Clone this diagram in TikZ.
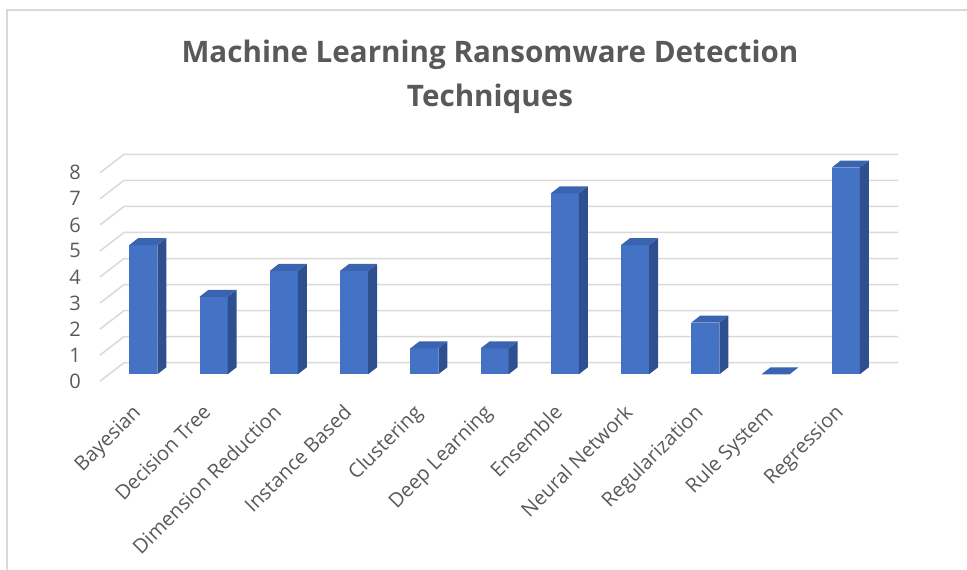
\documentclass[tikz,border=0pt]{standalone}
\usepackage{fontspec}
\setmainfont{Open Sans}
\definecolor{txtgray}{HTML}{595959}
\definecolor{gridgray}{HTML}{D9D9D9}
\definecolor{barfront}{HTML}{4472C4}
\definecolor{bartop}{HTML}{3A63B0}
\definecolor{barside}{HTML}{2E5090}
\tikzset{
  gridline/.style={draw=gridgray, line width=1.5pt},
  ticklabel/.style={text=txtgray, font=\fontsize{20}{24}\selectfont, anchor=center},
  catlabel/.style={text=txtgray, font=\fontsize{20}{24}\selectfont, anchor=north east, rotate=45, inner sep=0pt},
  titletext/.style={text=txtgray, font=\bfseries\fontsize{29.6}{44}\selectfont, align=center},
  frontface/.style={fill=barfront},
  topface/.style={fill=bartop},
  sideface/.style={fill=barside},
}
\begin{document}
\begin{tikzpicture}[x=1pt,y=-1pt]
  \useasboundingbox (0,0) rectangle (967,570);
  % chart frame
  \draw[gridgray, line width=1.2pt] (7,580) -- (7,10) -- (980,10);
  % title
  \node[titletext] (title) at (490,76.5) {Machine Learning Ransomware Detection\\Techniques};
  % gridlines with their depth diagonals and value labels
  \foreach \k in {0,...,8} {
    \pgfmathsetmacro{\yb}{362.7-\k*26.05}
    \coordinate (gf\k) at (100,\yb+18.5);
    \coordinate (gb\k) at (124,\yb);
    \coordinate (ge\k) at (898,\yb);
    \draw[gridline] (gf\k) -- (gb\k) -- (ge\k);
    \node[ticklabel] (v\k) at (75,\yb+18.5) {\k};
  }
  % columns
  \foreach \i/\v/\lab in {0/5/Bayesian, 1/3/Decision Tree, 2/4/Dimension Reduction,
      3/4/Instance Based, 4/1/Clustering, 5/1/Deep Learning, 6/7/Ensemble,
      7/5/Neural Network, 8/2/Regularization, 9/0/Rule System, 10/8/Regression} {
    \pgfmathsetmacro{\xl}{129.3+\i*70.25}
    \pgfmathsetmacro{\xr}{\xl+28}
    \pgfmathsetmacro{\yt}{374.3-\v*25.85}
    \coordinate (bl\i) at (\xl,374.3);
    \coordinate (br\i) at (\xr,374.3);
    \coordinate (tl\i) at (\xl,\yt);
    \coordinate (tr\i) at (\xr,\yt);
    \ifnum\v>0
      \fill[frontface] (bl\i) -- (br\i) -- (tr\i) -- (tl\i) -- cycle;
      \fill[sideface] (br\i) -- ++(9,-7) -- ([shift={(9,-7)}]tr\i) -- (tr\i) -- cycle;
    \fi
    \fill[topface] (tl\i) -- (tr\i) -- ++(9,-7) -- ([shift={(9,-7)}]tl\i) -- cycle;
    \node[catlabel] (c\i) at (\xl+2,403) {\lab};
  }
\end{tikzpicture}
\end{document}
